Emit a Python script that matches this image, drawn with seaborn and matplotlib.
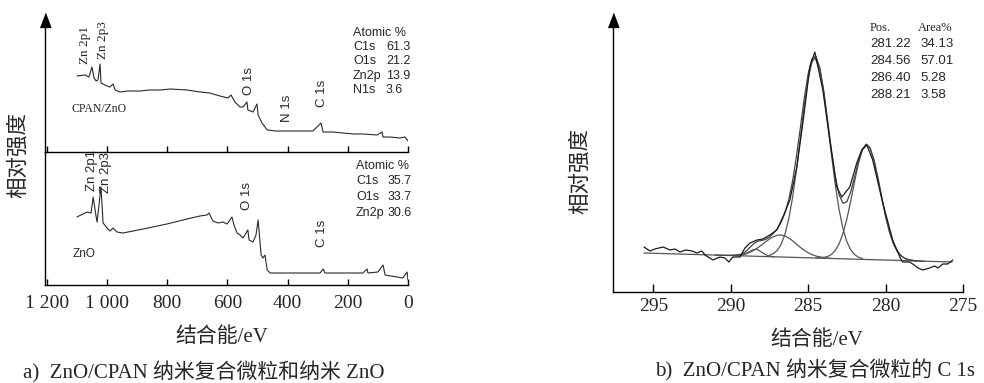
import matplotlib
matplotlib.use("Agg")
import matplotlib.pyplot as plt
import seaborn as sns
import pandas as pd

# ---------------- Data: survey spectra (binding energy / eV, relative intensity) -------------
cpan_be = [1100, 1073, 1060, 1050, 1043, 1036, 1030, 1023, 1020, 1000, 990, 980, 973, 957,
           930, 890, 860, 824, 790, 734, 691, 658, 625, 598, 588, 575, 558, 548, 535, 532,
           515, 502, 498, 485, 475, 468, 440, 392, 350, 316, 289, 282, 250, 216, 180, 150,
           103, 86, 83, 60, 27, 10, 0]
cpan_int = [76, 77, 75, 85, 74, 71, 72, 88, 69, 66, 65, 68, 62, 60,
            61, 61, 62, 62, 63, 62, 60, 59, 56, 54, 57, 50, 45, 45, 50, 42,
            40, 48, 37, 29, 25, 22, 21, 21, 21, 21, 29, 20, 20, 19, 18, 18,
            17, 20, 15, 15, 14, 15, 11]

zno_be = [1100, 1066, 1053, 1046, 1036, 1033, 1020, 1013, 1000, 990, 980, 967, 947,
          880, 801, 734, 691, 668, 661, 648, 631, 615, 601, 585, 578, 568, 558, 548,
          532, 528, 515, 505, 498, 488, 482, 475, 468, 458, 400, 340, 292, 282, 276,
          220, 150, 136, 133, 100, 83, 76, 37, 17, 3, 0]
zno_int = [68, 73, 72, 88, 68, 63, 98, 62, 57, 54, 57, 53, 52,
           56, 61, 66, 69, 70, 72, 64, 62, 63, 61, 68, 60, 52, 50, 47,
           55, 45, 43, 50, 65, 30, 27, 30, 15, 12, 12, 12, 12, 16, 12,
           12, 12, 16, 12, 13, 20, 10, 8, 7, 13, 5]

survey_ticks = [1200, 1000, 800, 600, 400, 200, 0]
survey_ticklabels = ["1 200", "1 000", "800", "600", "400", "200", "0"]

cpan_atomic = ["C1s", "O1s", "Zn2p", "N1s"]
cpan_atomic_vals = ["61.3", "21.2", "13.9", "3.6"]
zno_atomic = ["C1s", "O1s", "Zn2p"]
zno_atomic_vals = ["35.7", "33.7", "30.6"]

# ---------------- Data: C 1s high-resolution spectrum -------------
c1s_raw_be = [295.6, 295.21, 294.9, 294.37, 293.92, 293.6, 293.28, 292.9, 292.5, 292.18,
              291.86, 291.66, 291.15, 290.7, 290.37, 290.12, 289.86, 289.4, 289.08, 288.76,
              288.3, 287.92, 287.47, 287.02, 286.63, 286.18, 285.73, 285.34, 284.89, 284.57,
              284.05, 283.6, 283.15, 282.83, 282.31, 281.86, 281.54, 281.21, 280.83, 280.18,
              279.54, 279.08, 278.9, 278.44, 278.25, 277.9, 277.6, 277.15, 276.83, 276.63,
              276.3, 275.99, 275.66]
c1s_raw_int = [45, 41, 43, 45, 42, 43, 40, 42, 41, 39,
               41, 37, 32, 35, 34, 30, 35, 35, 44, 49,
               52, 53, 57, 62, 75, 92, 125, 169, 225, 240,
               202, 152, 105, 95, 105, 129, 142, 147, 132, 89,
               52, 35, 30, 30, 28, 24, 22, 24, 26, 24,
               28, 28, 32]

baseline_be = [295.6, 275.7]
baseline_int = [39, 30]

fit_be = [291.0, 290.75, 290.5, 290.25, 290.0, 289.75, 289.5, 289.25, 289.0, 288.75,
          288.5, 288.25, 288.0, 287.75, 287.5, 287.25, 287.0, 286.75, 286.5, 286.25,
          286.0, 285.75, 285.5, 285.25, 285.0, 284.75, 284.5, 284.25, 284.0, 283.75,
          283.5, 283.25, 283.0, 282.75, 282.5, 282.25, 282.0, 281.75, 281.5, 281.25,
          281.0, 280.75, 280.5, 280.25, 280.0, 279.75, 279.5, 279.25, 279.0, 278.75,
          278.5, 278.25, 278.0, 277.75, 277.5]
fit_int = [36.9, 36.8, 36.7, 36.7, 36.7, 36.8, 37.2, 38.2, 40.8, 44.6,
           48.5, 50.8, 51.5, 52.6, 54.9, 58.5, 63.1, 69.5, 78.7, 92.4,
           111.5, 136.0, 164.6, 193.6, 218.1, 233.3, 235.7, 224.6, 202.0, 172.6,
           142.1, 115.6, 97.2, 88.7, 90.2, 100.1, 115.0, 130.7, 142.8, 147.9,
           144.0, 132.0, 114.5, 94.7, 75.9, 60.3, 48.7, 41.0, 36.3, 33.6,
           32.3, 31.6, 31.1, 30.9, 30.8]

comp1_be = [287.5, 287.25, 287.0, 286.75, 286.5, 286.25, 286.0, 285.75, 285.5, 285.25,
            285.0, 284.75, 284.56, 284.25, 284.0, 283.75, 283.5, 283.25, 283.0, 282.75,
            282.5, 282.25, 282.0, 281.75, 281.5]
comp1_int = [36.7, 38.3, 41.5, 47.5, 57.6, 73.2, 95.0, 122.7, 154.4, 186.2,
             213.0, 230.0, 234.0, 223.1, 200.6, 170.5, 138.0, 107.6, 82.3, 63.3,
             50.3, 42.1, 37.4, 34.8, 33.5]

comp2_be = [284.5, 284.25, 284.0, 283.75, 283.5, 283.25, 283.0, 282.75, 282.5, 282.25,
            282.0, 281.75, 281.5, 281.22, 281.0, 280.75, 280.5, 280.25, 280.0, 279.75,
            279.5, 279.25, 279.0, 278.75, 278.5, 278.25, 278.0]
comp2_int = [34.1, 34.2, 34.6, 35.4, 37.5, 41.4, 48.2, 58.6, 73.0, 91.0,
             110.5, 128.6, 141.9, 147.5, 143.9, 132.0, 114.5, 94.7, 75.9, 60.3,
             48.7, 41.0, 36.3, 33.6, 32.3, 31.6, 31.1]

comp3_be = [290.0, 289.75, 289.5, 289.25, 289.0, 288.75, 288.5, 288.25, 288.0, 287.75,
            287.5, 287.25, 287.0, 286.75, 286.5, 286.25, 286.0, 285.75, 285.5, 285.25,
            285.0, 284.75, 284.5, 284.25, 284.0, 283.75, 283.5]
comp3_int = [36.7, 36.8, 37.0, 37.5, 38.5, 39.8, 41.7, 44.2, 47.1, 50.1,
             52.9, 55.3, 56.7, 57.0, 56.0, 54.0, 51.2, 47.8, 44.6, 41.7,
             39.3, 37.4, 36.0, 35.1, 34.4, 33.9, 33.6]

comp4_be = [289.6, 289.4, 289.2, 289.0, 288.8, 288.6, 288.4, 288.2, 288.0, 287.8,
            287.6, 287.4, 287.2]
comp4_int = [36.4, 36.5, 37.0, 38.3, 40.1, 42.0, 42.7, 41.9, 39.8, 37.8,
             36.3, 35.6, 35.3]

c1s_ticks = [295, 290, 285, 280, 275]
table_pos = ["281.22", "284.56", "286.40", "288.21"]
table_area = ["34.13", "57.01", "5.28", "3.58"]

# ---------------- Style -------------
sns.set_style("ticks")
plt.rcParams["font.family"] = ["Liberation Sans", "Noto Sans CJK SC"]
SERIF = ["Liberation Serif", "Noto Sans CJK SC"]
CJK = ["Noto Sans CJK SC", "Liberation Sans"]

W, H = 984, 383
fig = plt.figure(figsize=(W / 100, H / 100), dpi=100)
fig.patch.set_facecolor("white")


def P(x, y):
    return x / W, 1 - y / H


def axes_px(l, t, r, b):
    return fig.add_axes([l / W, 1 - b / H, (r - l) / W, (b - t) / H])


ax_top = axes_px(45, 20, 408, 152)
ax_bot = axes_px(45, 152, 408, 285)
ax_r = axes_px(613, 20, 963, 292)

line_col = "#2a2a2a"
sns.lineplot(x=cpan_be, y=cpan_int, ax=ax_top, sort=False, estimator=None,
             color=line_col, lw=0.8)
sns.lineplot(x=zno_be, y=zno_int, ax=ax_bot, sort=False, estimator=None,
             color=line_col, lw=0.8)

for ax, top in ((ax_top, 132), (ax_bot, 133)):
    ax.set_xlim(1206, 0)
    ax.set_ylim(0, top)
    ax.set_facecolor("none")
    for s in ("top", "right"):
        ax.spines[s].set_visible(False)
    for s in ("left", "bottom"):
        ax.spines[s].set_linewidth(1.0)
        ax.spines[s].set_color("black")
    ax.set_yticks([])
    ax.set_xticks(survey_ticks)
    ax.tick_params(axis="x", direction="in", length=4, width=1.0, color="black")
    ax.set_xlabel("")
    ax.set_ylabel("")

ax_top.set_xticklabels([])
ax_bot.set_xticklabels(survey_ticklabels, family=SERIF, fontsize=14)
ax_bot.tick_params(axis="x", pad=7)

# C1s panel
fit_col = "#555555"
sns.lineplot(x=baseline_be, y=baseline_int, ax=ax_r, sort=False, estimator=None,
             color=fit_col, lw=0.9)
for be, it in ((comp1_be, comp1_int), (comp2_be, comp2_int),
               (comp3_be, comp3_int), (comp4_be, comp4_int)):
    sns.lineplot(x=be, y=it, ax=ax_r, sort=False, estimator=None, color=fit_col, lw=0.9)
sns.lineplot(x=fit_be, y=fit_int, ax=ax_r, sort=False, estimator=None,
             color="#444444", lw=0.9)
sns.lineplot(x=c1s_raw_be, y=c1s_raw_int, ax=ax_r, sort=False, estimator=None,
             color="#1a1a1a", lw=0.9)

ax_r.set_xlim(297.6, 275)
ax_r.set_ylim(0, 272)
for s in ("top", "right"):
    ax_r.spines[s].set_visible(False)
for s in ("left", "bottom"):
    ax_r.spines[s].set_linewidth(1.0)
    ax_r.spines[s].set_color("black")
ax_r.set_yticks([])
ax_r.set_xticks(c1s_ticks)
ax_r.set_xticklabels([str(t) for t in c1s_ticks], family=SERIF, fontsize=14)
ax_r.tick_params(axis="x", direction="in", length=6, width=1.0, color="black", pad=4)
ax_r.set_xlabel("")
ax_r.set_ylabel("")

# arrow heads on the y axes
arrow = [(-0.38, -0.5), (0.38, -0.5), (0.0, 0.5)]
for ax in (ax_top, ax_r):
    ax.plot([0], [1], marker=arrow, markersize=10, color="black",
            transform=ax.transAxes, clip_on=False)

# ---------------- Texts -------------
fig.text(*P(18, 155), "相对强度", rotation=90, ha="center", va="center",
         family=CJK, fontsize=15.5)
fig.text(*P(580, 171), "相对强度", rotation=90, ha="center", va="center",
         family=CJK, fontsize=15.5)

fig.text(*P(222, 337), "结合能/eV", ha="center", va="center", family=SERIF, fontsize=15)
fig.text(*P(817, 340), "结合能/eV", ha="center", va="center", family=SERIF, fontsize=15)
fig.text(*P(23, 372), "a)  ZnO/CPAN 纳米复合微粒和纳米 ZnO", ha="left", va="center",
         family=SERIF, fontsize=15)
fig.text(*P(975, 370), "b)  ZnO/CPAN 纳米复合微粒的 C 1s", ha="right", va="center",
         family=SERIF, fontsize=15)

# survey peak labels
for txt, x, y, fam in (("Zn 2p1", 85, 64, SERIF), ("Zn 2p3", 103, 59, SERIF),
                       ("O 1s", 249, 95, None), ("N 1s", 287, 122, None),
                       ("C 1s", 322, 107, None),
                       ("Zn 2p1", 92, 191, None), ("Zn 2p3", 106, 193, None),
                       ("O 1s", 247, 210, None), ("C 1s", 322, 247, None)):
    kw = {"family": fam} if fam else {}
    fig.text(*P(x, y), txt, rotation=90, ha="center", va="bottom", fontsize=9.5, **kw)

fig.text(*P(99, 109), "CPAN/ZnO", ha="center", va="center", family=SERIF, fontsize=8.5)
fig.text(*P(84, 254), "ZnO", ha="center", va="center", fontsize=8.5)

fig.text(*P(353, 33), "Atomic %", ha="left", va="center", fontsize=9)
for i, (a, v) in enumerate(zip(cpan_atomic, cpan_atomic_vals)):
    y = 47 + i * 14.3
    fig.text(*P(353, y), a, ha="left", va="center", fontsize=9)
    fig.text(*P(386, y), v, ha="left", va="center", fontsize=9)

fig.text(*P(356, 166), "Atomic %", ha="left", va="center", fontsize=9)
for i, (a, v) in enumerate(zip(zno_atomic, zno_atomic_vals)):
    y = 181 + i * 16
    fig.text(*P(356, y), a, ha="left", va="center", fontsize=9)
    fig.text(*P(388, y), v, ha="left", va="center", fontsize=9)

fig.text(*P(870, 28), "Pos.", ha="left", va="center", family=SERIF, fontsize=9)
fig.text(*P(918, 28), "Area%", ha="left", va="center", family=SERIF, fontsize=9)
for i, (p, a) in enumerate(zip(table_pos, table_area)):
    y = 44 + i * 17
    fig.text(*P(870, y), p, ha="left", va="center", fontsize=9.5)
    fig.text(*P(920, y), a, ha="left", va="center", fontsize=9.5)

fig.savefig("out.png", dpi=100)
